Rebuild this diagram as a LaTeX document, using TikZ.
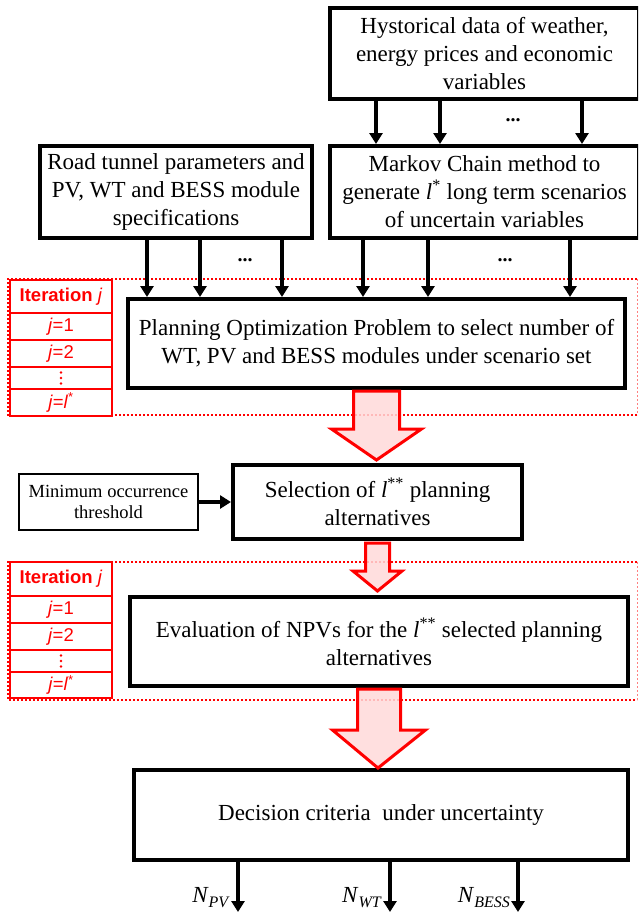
\documentclass[tikz,border=0pt]{standalone}
\usepackage{fontspec}
\setmainfont{Liberation Serif}
\newfontfamily\arialf{Liberation Sans}
\usetikzlibrary{arrows.meta,calc}
\begin{document}
\begin{tikzpicture}[x=1pt,y=-1pt,
 mainbox/.style={draw=black, line width=4pt, fill=white, align=center, inner sep=0pt, font=\fontsize{23}{28}\selectfont},
 smallbox/.style={draw=black, line width=2.5pt, fill=white, align=center, inner sep=0pt, font=\fontsize{18.5}{21.5}\selectfont},
 blackarr/.style={line width=3.5pt, -{Triangle[width=13pt,length=11pt]}},
 bigarrow/.style={draw=red, line width=3pt, fill=red!15, fill opacity=0.85, line join=miter},
 dotregion/.style={draw=red, line width=2pt, dash pattern=on 2pt off 2pt},
 thinregion/.style={draw=red!50, line width=0.8pt, dash pattern=on 2pt off 2pt},
 itcell/.style={draw=red, line width=2.5pt, fill=white, text=red, inner sep=0pt, minimum width=102pt, font=\arialf\fontsize{18.5}{20}\selectfont},
 vdot/.style={fill=red, draw=none},
 dotlab/.style={font=\fontsize{20}{20}\selectfont\bfseries, inner sep=0pt},
 nlab/.style={font=\fontsize{23}{23}\selectfont, anchor=base east, inner sep=0pt}
]
\useasboundingbox (0,0) rectangle (638,913);
\clip (0,0) rectangle (638,913);

% dotted iteration regions
\draw[dotregion] (637,279) -- (8,279) -- (8,415) -- (637,415);
\draw[thinregion] (637,279) -- (637,415);
\draw[dotregion] (637,562) -- (8,562) -- (8,700) -- (637,700);
\draw[thinregion] (637,562) -- (637,700);

% iteration table 1
\node[itcell, minimum height=33pt] (h1) at (61,296.5) {\textbf{Iteration} \textit{j}};
\node[itcell, minimum height=27pt] (a1) at (61,326.5) {\textit{j}=1};
\node[itcell, minimum height=27pt] (b1) at (61,353.5) {\textit{j}=2};
\node[itcell, minimum height=22pt] (c1) at (61,378) {};
\foreach \dy in {-5.5,0,5.5} \fill[vdot] ($(c1.center)+(0,\dy)$) circle (1.4pt);
\node[itcell, minimum height=27pt] (d1) at (61,402.5) {\textit{j}=\textit{l}\textsuperscript{*}};

% iteration table 2
\node[itcell, minimum height=34pt] (h2) at (61,579) {\textbf{Iteration} \textit{j}};
\node[itcell, minimum height=27pt] (a2) at (61,609.5) {\textit{j}=1};
\node[itcell, minimum height=27pt] (b2) at (61,636.5) {\textit{j}=2};
\node[itcell, minimum height=22pt] (c2) at (61,661) {};
\foreach \dy in {-5.5,0,5.5} \fill[vdot] ($(c2.center)+(0,\dy)$) circle (1.4pt);
\node[itcell, minimum height=26pt] (d2) at (61,685) {\textit{j}=\textit{l}\textsuperscript{*}};

% boxes
\node[mainbox, minimum width=309pt, minimum height=91pt] (hist) at (484.5,53.5)
  {Hystorical data of weather,\\energy prices and economic\\variables};
\node[mainbox, minimum width=309pt, minimum height=92pt] (markov) at (484.5,192)
  {Markov Chain method to\\generate \textit{l}\textsuperscript{*} long term scenarios\\of uncertain variables};
\node[mainbox, minimum width=272pt, minimum height=92pt] (road) at (176,192)
  {Road tunnel parameters and\\PV, WT and BESS module\\specifications};
\node[mainbox, minimum width=497pt, minimum height=89pt] (plan) at (376.5,343.5)
  {Planning Optimization Problem to select number of\\WT, PV and BESS modules under scenario set};
\node[mainbox, minimum width=289pt, minimum height=74pt] (sel) at (377.5,502)
  {Selection of \textit{l}\textsuperscript{**} planning\\alternatives};
\node[smallbox, minimum width=179pt, minimum height=56pt] (minocc) at (108.5,502)
  {Minimum occurrence\\threshold};
\node[mainbox, minimum width=498pt, minimum height=89pt] (eval) at (379,641.5)
  {Evaluation of NPVs for the \textit{l}\textsuperscript{**} selected planning\\alternatives};
\node[mainbox, minimum width=494pt, minimum height=90pt] (dec) at (381,815)
  {Decision criteria\ \ under uncertainty};

% black arrows: hist -> markov
\draw[blackarr] ([xshift=-108.5pt]hist.south) -- ([xshift=-108.5pt]markov.north);
\draw[blackarr] ([xshift=-44.5pt]hist.south) -- ([xshift=-44.5pt]markov.north);
\draw[blackarr] ([xshift=97.5pt]hist.south) -- ([xshift=97.5pt]markov.north);
\node[dotlab] (d0) at (513,120) {...};

% road -> plan
\draw[blackarr] ([xshift=-29pt]road.south) -- ([xshift=-229.5pt]plan.north);
\draw[blackarr] ([xshift=24pt]road.south) -- ([xshift=-176.5pt]plan.north);
\draw[blackarr] ([xshift=106pt]road.south) -- ([xshift=-94.5pt]plan.north);
\node[dotlab] (dr) at (245,260) {...};

% markov -> plan
\draw[blackarr] ([xshift=-121.5pt]markov.south) -- ([xshift=-13.5pt]plan.north);
\draw[blackarr] ([xshift=-56.5pt]markov.south) -- ([xshift=51.5pt]plan.north);
\draw[blackarr] ([xshift=85.5pt]markov.south) -- ([xshift=193.5pt]plan.north);
\node[dotlab] (dm) at (505,260) {...};

% min occurrence -> selection
\draw[blackarr] (minocc.east) -- (sel.west);

% big red arrows
\draw[bigarrow] ($(plan.south)+(-23,1)$) -- ($(plan.south)+(23,1)$) -- ($(plan.south)+(23,39)$)
  -- ($(plan.south)+(45,39)$) -- ($(sel.north)+(-1,-3)$) -- ($(plan.south)+(-45,39)$)
  -- ($(plan.south)+(-23,39)$) -- cycle;
\draw[bigarrow] ($(sel.south)+(-12,2)$) -- ($(sel.south)+(12,2)$) -- ($(sel.south)+(12,30)$)
  -- ($(sel.south)+(24.5,30)$) -- ($(eval.north)+(-1.5,-4)$) -- ($(sel.south)+(-24.5,30)$)
  -- ($(sel.south)+(-12,30)$) -- cycle;
\draw[bigarrow] ($(eval.south)+(-21.5,1)$) -- ($(eval.south)+(21.5,1)$) -- ($(eval.south)+(21.5,42)$)
  -- ($(eval.south)+(46.5,42)$) -- ($(dec.north)+(-3,0)$) -- ($(eval.south)+(-46.5,42)$)
  -- ($(eval.south)+(-21.5,42)$) -- cycle;

% outputs
\coordinate (o1) at (238,912);
\coordinate (o2) at (390,912);
\coordinate (o3) at (518,912);
\draw[blackarr] ([xshift=-143pt]dec.south) -- (o1);
\draw[blackarr] ([xshift=9pt]dec.south) -- (o2);
\draw[blackarr] ([xshift=137pt]dec.south) -- (o3);
\node[nlab] (n1) at (230,902) {\textit{N}{\fontsize{16}{16}\selectfont\raisebox{-5pt}{\textit{PV}}}};
\node[nlab] (n2) at (382,902) {\textit{N}{\fontsize{16}{16}\selectfont\raisebox{-5pt}{\textit{WT}}}};
\node[nlab] (n3) at (510,902) {\textit{N}{\fontsize{16}{16}\selectfont\raisebox{-5pt}{\textit{BESS}}}};
\end{tikzpicture}
\end{document}
